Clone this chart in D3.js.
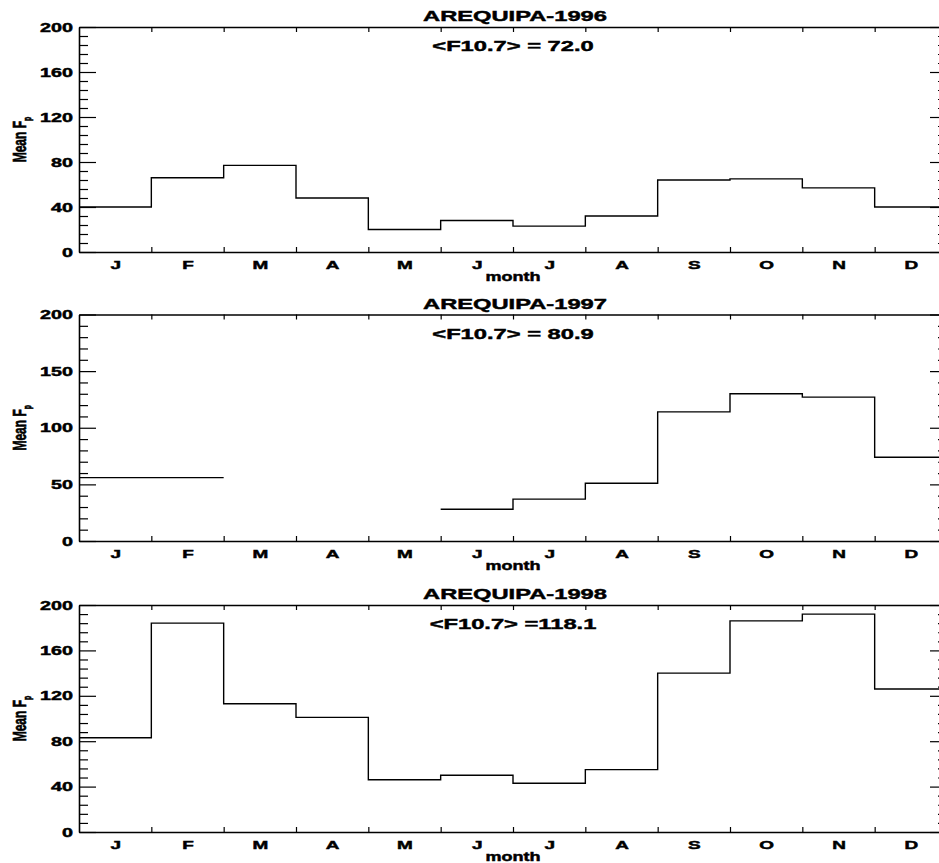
<!DOCTYPE html>
<html>
<head>
<meta charset="utf-8">
<script src="https://cdn.jsdelivr.net/npm/d3@7"></script>
<style>
  body { margin: 0; background: #fff; }
  svg { display: block; }
  text { font-family: "Liberation Sans", Arial, Helvetica, sans-serif; font-weight: bold; fill: #000; stroke: #000; stroke-width: 0.45; }
  .domain { stroke: #000; stroke-width: 1.6; }
  .tick line { stroke: #000; stroke-width: 1.2; }
</style>
</head>
<body>
<svg id="chart"></svg>
<script>
// data
const months = ["J", "F", "M", "A", "M", "J", "J", "A", "S", "O", "N", "D"];
const titles = ["AREQUIPA-1996", "AREQUIPA-1997", "AREQUIPA-1998"];
const f107Labels = ["<F10.7> = 72.0", "<F10.7> = 80.9", "<F10.7> =118.1"];
const fp1996 = [40, 66, 77, 48, 20, 28, 23, 32, 64, 65, 57, 40];
const fp1997 = [56, 56, null, null, null, 28, 37, 51, 114, 130, 127, 74];
const fp1998 = [83, 184, 113, 101, 46, 50, 43, 55, 140, 186, 192, 126];
const majorSteps = [40, 50, 40];
const minorSteps = [8, 10, 8];

const series = [fp1996, fp1997, fp1998];

const width = 939, height = 863;
const left = 79, right = 947;
const panelTops = [27, 314.5, 605];
const panelBottoms = [252, 541, 832];
const SX = 1.58; // the original figure is stretched horizontally

const svg = d3.select("#chart").attr("width", width).attr("height", height);

const x = d3.scaleLinear().domain([0, 12]).range([left, right]);

function stretch(sel, sx) {
  sel.each(function () {
    const t = d3.select(this);
    const xv = +t.attr("x") || 0;
    t.attr("x", xv / sx).attr("transform", `scale(${sx},1)`);
  });
}

series.forEach((vals, p) => {
  const top = panelTops[p], bottom = panelBottoms[p];
  const y = d3.scaleLinear().domain([0, 200]).range([bottom, top]);
  const g = svg.append("g");

  const major = d3.range(0, 201, majorSteps[p]);
  const minor = d3.range(0, 201, minorSteps[p]).filter(v => !major.includes(v));
  const bounds = d3.range(1, 12);

  // left axis
  const gl = g.append("g").attr("transform", `translate(${left},0)`)
    .call(d3.axisLeft(y).tickValues(major).tickSize(-17).tickSizeOuter(0).tickPadding(6));
  gl.selectAll("text").style("font-size", "12.5px");
  stretch(gl.selectAll("text"), SX);
  g.append("g").attr("transform", `translate(${left},0)`)
    .call(d3.axisLeft(y).tickValues(minor).tickSize(-9).tickFormat(""))
    .select(".domain").remove();

  // right axis
  g.append("g").attr("transform", `translate(${right},0)`)
    .call(d3.axisRight(y).tickValues(major).tickSize(-17).tickSizeOuter(0).tickFormat(""));
  g.append("g").attr("transform", `translate(${right},0)`)
    .call(d3.axisRight(y).tickValues(minor).tickSize(-9).tickFormat(""))
    .select(".domain").remove();

  // top axis
  g.append("g").attr("transform", `translate(0,${top})`)
    .call(d3.axisTop(x).tickValues(bounds).tickSize(-5).tickSizeOuter(0).tickFormat(""));

  // bottom axis: boundary ticks, then month letters centred in each month
  g.append("g").attr("transform", `translate(0,${bottom})`)
    .call(d3.axisBottom(x).tickValues(bounds).tickSize(-5).tickSizeOuter(0).tickFormat(""));
  const gm = g.append("g").attr("transform", `translate(0,${bottom})`)
    .call(d3.axisBottom(x).tickValues(months.map((m, i) => i + 0.5))
      .tickSize(0).tickPadding(9).tickFormat((d, i) => months[i]));
  gm.select(".domain").remove();
  gm.selectAll("text").style("font-size", "11.5px");
  stretch(gm.selectAll("text"), 1.65);

  g.append("text")
    .attr("transform", `translate(${(left + right) / 2},${bottom + 29}) scale(1.5,1)`)
    .attr("text-anchor", "middle")
    .style("font-size", "12px")
    .text("month");

  // titles
  g.append("text")
    .attr("transform", `translate(${(left + right) / 2 + 2},${top - 6}) scale(${SX},1)`)
    .attr("text-anchor", "middle")
    .style("font-size", "15px")
    .text(titles[p]);
  g.append("text")
    .attr("transform", `translate(${(left + right) / 2},${top + 24}) scale(${SX},1)`)
    .attr("text-anchor", "middle")
    .style("font-size", "15px")
    .text(f107Labels[p]);

  // y label
  const yl = g.append("text")
    .attr("transform", `translate(26,${(top + bottom) / 2}) rotate(-90) scale(1,1.53)`)
    .attr("text-anchor", "middle")
    .style("font-size", "12px");
  yl.append("tspan").text("Mean F");
  yl.append("tspan").attr("dy", 3).style("font-size", "7px").text("p");

  // step line, broken where a month has no data
  const pts = vals.flatMap((v, i) => [{ m: i, v }, { m: i + 1, v }]);
  const line = d3.line()
    .defined(d => d.v != null)
    .x(d => x(d.m))
    .y(d => y(d.v));
  g.append("path")
    .datum(pts)
    .attr("d", line)
    .attr("fill", "none")
    .attr("stroke", "#000")
    .attr("stroke-width", 1.4);
});
</script>
</body>
</html>
